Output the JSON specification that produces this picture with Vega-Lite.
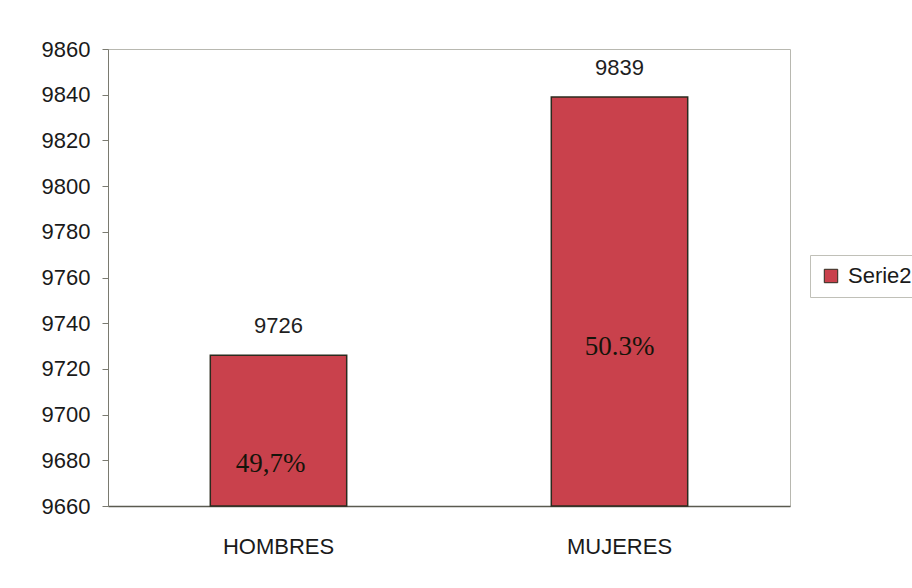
{
  "$schema": "https://vega.github.io/schema/vega-lite/v6.json",
  "width": 682,
  "height": 457,
  "autosize": "none",
  "padding": {"left": 108, "top": 49, "right": 122, "bottom": 82},
  "background": "white",
  "data": {
    "values": [
      {"sexo": "HOMBRES", "total": 9726, "pct": "49,7%", "serie": "Serie2"},
      {"sexo": "MUJERES", "total": 9839, "pct": "50.3%", "serie": "Serie2"}
    ]
  },
  "encoding": {
    "x": {
      "field": "sexo",
      "type": "nominal",
      "sort": null,
      "scale": {"paddingInner": 0.6, "paddingOuter": 0.3},
      "axis": {"title": null, "labelAngle": 0, "ticks": false, "labelPadding": 30, "domainColor": "#5a5a50", "domainWidth": 1.5}
    }
  },
  "layer": [
    {
      "mark": {"type": "bar", "stroke": "#2b2b1e", "strokeWidth": 1.5},
      "encoding": {
        "y": {
          "field": "total",
          "type": "quantitative",
          "scale": {"domain": [9660, 9860], "nice": false, "zero": false},
          "axis": {
            "title": null,
            "values": [9660, 9680, 9700, 9720, 9740, 9760, 9780, 9800, 9820, 9840, 9860],
            "format": "d",
            "tickSize": 6,
            "labelPadding": 12,
            "domainColor": "#7a7a70",
            "tickColor": "#7a7a70"
          }
        },
        "y2": {"datum": 9660},
        "fill": {
          "field": "serie",
          "type": "nominal",
          "scale": {"range": ["#c9414c"]},
          "legend": {
            "title": null,
            "orient": "none",
            "legendX": 702,
            "legendY": 206,
            "strokeColor": "#c0c0b8",
            "padding": 10,
            "symbolType": "square",
            "symbolSize": 180,
            "symbolStrokeColor": "#2b2b1e",
            "symbolStrokeWidth": 1,
            "labelFont": "Liberation Sans",
            "labelFontSize": 22,
            "labelColor": "#1a1a1a",
            "labelOffset": 6
          }
        }
      }
    },
    {
      "mark": {"type": "text", "baseline": "alphabetic", "dy": -22, "font": "Liberation Sans", "fontSize": 22, "color": "#1f1f1f"},
      "encoding": {
        "y": {"field": "total", "type": "quantitative"},
        "text": {"field": "total", "type": "quantitative", "format": "d"}
      }
    },
    {
      "transform": [{"filter": "datum.sexo == 'HOMBRES'"}],
      "mark": {"type": "text", "baseline": "alphabetic", "font": "Liberation Serif", "fontSize": 27, "color": "#14140a", "dx": -8},
      "encoding": {
        "y": {"datum": 9675},
        "text": {"field": "pct"}
      }
    },
    {
      "transform": [{"filter": "datum.sexo == 'MUJERES'"}],
      "mark": {"type": "text", "baseline": "alphabetic", "font": "Liberation Serif", "fontSize": 27, "color": "#14140a"},
      "encoding": {
        "y": {"datum": 9726},
        "text": {"field": "pct"}
      }
    }
  ],
  "config": {
    "view": {"stroke": "#b8b8b0", "strokeWidth": 1},
    "axis": {
      "grid": false,
      "labelFont": "Liberation Sans",
      "labelFontSize": 22,
      "labelColor": "#1a1a1a"
    }
  }
}
